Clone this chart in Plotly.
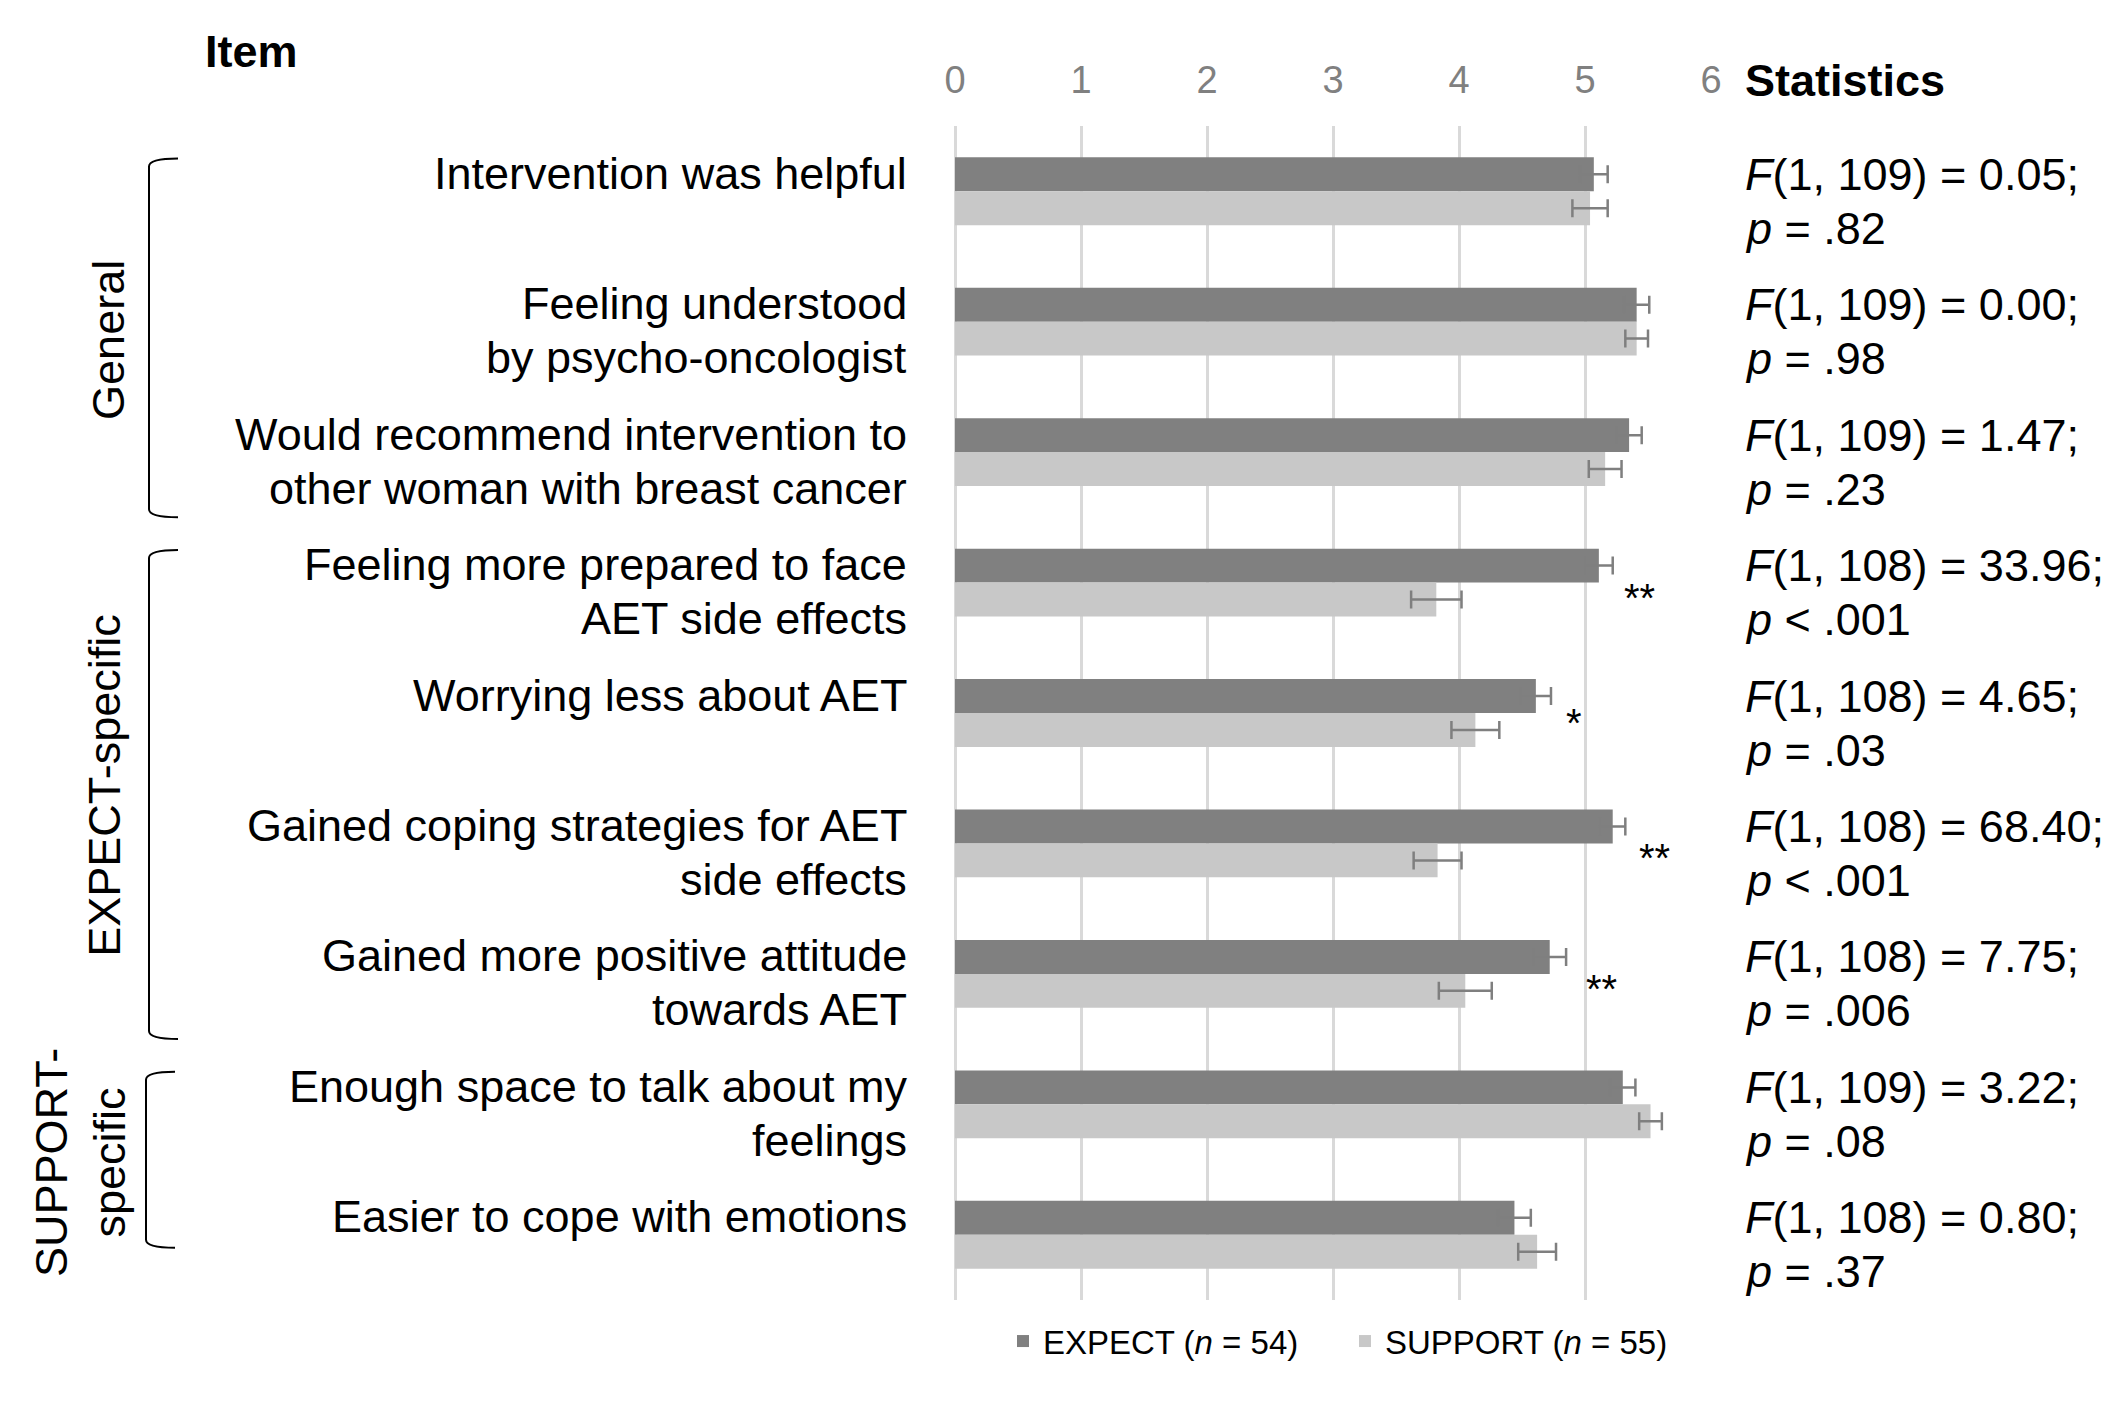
import plotly.graph_objects as go

# values (means on a 0-6 scale, error = SE)
items = [
    "Intervention was helpful",
    "Feeling understood<br>by psycho-oncologist",
    "Would recommend intervention to<br>other woman with breast cancer",
    "Feeling more prepared to face<br>AET side effects",
    "Worrying less about AET",
    "Gained coping strategies for AET<br>side effects",
    "Gained more positive attitude<br>towards AET",
    "Enough space to talk about my<br>feelings",
    "Easier to cope with emotions",
]
expect_mean = [5.07, 5.41, 5.35, 5.11, 4.61, 5.22, 4.72, 5.30, 4.44]
expect_se = [0.11, 0.10, 0.10, 0.11, 0.12, 0.10, 0.13, 0.10, 0.13]
support_mean = [5.04, 5.41, 5.16, 3.82, 4.13, 3.83, 4.05, 5.52, 4.62]
support_se = [0.14, 0.09, 0.13, 0.20, 0.19, 0.19, 0.21, 0.09, 0.15]

stats = [
    ("109", "0.05", "= .82"),
    ("109", "0.00", "= .98"),
    ("109", "1.47", "= .23"),
    ("108", "33.96", "< .001"),
    ("108", "4.65", "= .03"),
    ("108", "68.40", "< .001"),
    ("108", "7.75", "= .006"),
    ("109", "3.22", "= .08"),
    ("108", "0.80", "= .37"),
]
sig = ["", "", "", "**", "*", "**", "**", "", ""]
sig_x = [None, None, None, 5.43, 4.91, 5.55, 5.13, None, None]

# item groups: label, first item, last item
group_names = ["General", "EXPECT-specific", "SUPPORT-<br>specific"]
group_first = [0, 3, 7]
group_last = [2, 6, 8]

x_ticks = [0, 1, 2, 3, 4, 5, 6]

FONT = "Arial, Liberation Sans, sans-serif"
DARK = "#808080"
LIGHT = "#c8c8c8"

OFF = 8  # page body margin
W, H = 2119 - OFF, 1405 - OFF
L, T = 955 - OFF, 126 - OFF
PW, PH = 756, 1174
R, B = W - L - PW, H - T - PH
n = len(items)


def px_x(p):
    return (p - OFF - L) / PW


def idx_y(i):
    # category index (0 = top row) -> paper y
    return 1 - (i + 0.5) / n


fig = go.Figure()

fig.add_trace(go.Bar(
    y=items, x=expect_mean, orientation="h",
    name="EXPECT (<i>n</i> = 54)", legend="legend",
    marker=dict(color=DARK, line=dict(width=0)),
    error_x=dict(type="data", array=expect_se, color="#7f7f7f", thickness=2.5, width=9),
))
fig.add_trace(go.Bar(
    y=items, x=support_mean, orientation="h",
    name="SUPPORT (<i>n</i> = 55)", legend="legend2",
    marker=dict(color=LIGHT, line=dict(width=0)),
    error_x=dict(type="data", array=support_se, color="#7f7f7f", thickness=2.5, width=9),
))

annotations = []
for i, lab in enumerate(items):
    df, f, p = stats[i]
    stat_lines = [f"<i>F</i>(1, {df}) = {f};", f"<i>p</i> {p}"]
    for k, line in enumerate(lab.split("<br>")):
        annotations.append(dict(
            x=0, xref="paper", xshift=-46, xanchor="right",
            y=lab, yref="y", yanchor="middle", yshift=18 - 54 * k,
            text=line, showarrow=False,
            font=dict(size=45, color="black", family=FONT),
        ))
    for k, line in enumerate(stat_lines):
        annotations.append(dict(
            x=1, xref="paper", xshift=32, xanchor="left",
            y=lab, yref="y", yanchor="middle", yshift=17 - 54 * k,
            text=line, showarrow=False,
            font=dict(size=45, color="black", family=FONT),
        ))
    if sig[i]:
        annotations.append(dict(
            x=sig_x[i], xref="x", y=lab, yref="y",
            yshift=-15 if sig[i] == "**" else -10,
            text=sig[i], showarrow=False, xanchor="center", yanchor="middle",
            font=dict(size=40, color="black", family=FONT),
        ))

annotations.append(dict(
    x=px_x(203), xref="paper", xanchor="left", y=1, yref="paper", yshift=75,
    yanchor="middle", text="<b>Item</b>", showarrow=False,
    font=dict(size=45, color="black", family=FONT),
))
annotations.append(dict(
    x=1, xref="paper", xshift=32, xanchor="left", y=1, yref="paper", yshift=46,
    yanchor="middle", text="<b>Statistics</b>", showarrow=False,
    font=dict(size=45, color="black", family=FONT),
))

# brackets on the left
shapes = []
bracket_x = [(149, 178), (149, 178), (146, 175)]
bracket_bot = [0.5, 0.5, 0.1]
label_idx = [1.14, 4.55, 7.45]
label_x = [109, 105, 81]
for g, name in enumerate(group_names):
    top = idx_y(group_first[g] - 0.25)
    bot = idx_y(group_last[g] + bracket_bot[g])
    x0, x1 = px_x(bracket_x[g][0]), px_x(bracket_x[g][1])
    d = 8 / PH
    path = (f"M {x1},{top} Q {x0},{top} {x0},{top - d} "
            f"L {x0},{bot + d} Q {x0},{bot} {x1},{bot}")
    shapes.append(dict(type="path", path=path, xref="paper", yref="paper",
                       line=dict(color="black", width=2)))
    annotations.append(dict(
        x=px_x(label_x[g]), xref="paper", y=idx_y(label_idx[g]), yref="paper",
        text=name, textangle=-90, showarrow=False,
        xanchor="center", yanchor="middle",
        font=dict(size=45, color="black", family=FONT),
    ))

legend_style = dict(
    orientation="h", xanchor="left", y=-0.035, yanchor="middle",
    font=dict(size=33, family=FONT, color="black"),
    bgcolor="rgba(0,0,0,0)",
)

fig.update_layout(
    width=W, height=H,
    margin=dict(l=L, r=R, t=T, b=B, pad=0),
    paper_bgcolor="white", plot_bgcolor="white",
    barmode="group", bargap=0.48, bargroupgap=0,
    font=dict(family=FONT, size=33, color="black"),
    xaxis=dict(
        side="top", range=[0, 6], tickvals=x_ticks,
        showgrid=True, gridcolor="#d9d9d9", gridwidth=2.5,
        zeroline=True, zerolinecolor="#d9d9d9", zerolinewidth=2.5,
        showline=False, ticks="",
        tickfont=dict(size=38, color="#808080", family=FONT),
        ticklabelstandoff=24,
    ),
    yaxis=dict(
        autorange="reversed", showticklabels=False, showgrid=False,
        zeroline=False, showline=False, ticks="",
    ),
    legend=dict(x=px_x(1003), **legend_style),
    legend2=dict(x=px_x(1345), **legend_style),
    annotations=annotations,
    shapes=shapes,
    showlegend=True,
)

fig.write_html("out.html")
